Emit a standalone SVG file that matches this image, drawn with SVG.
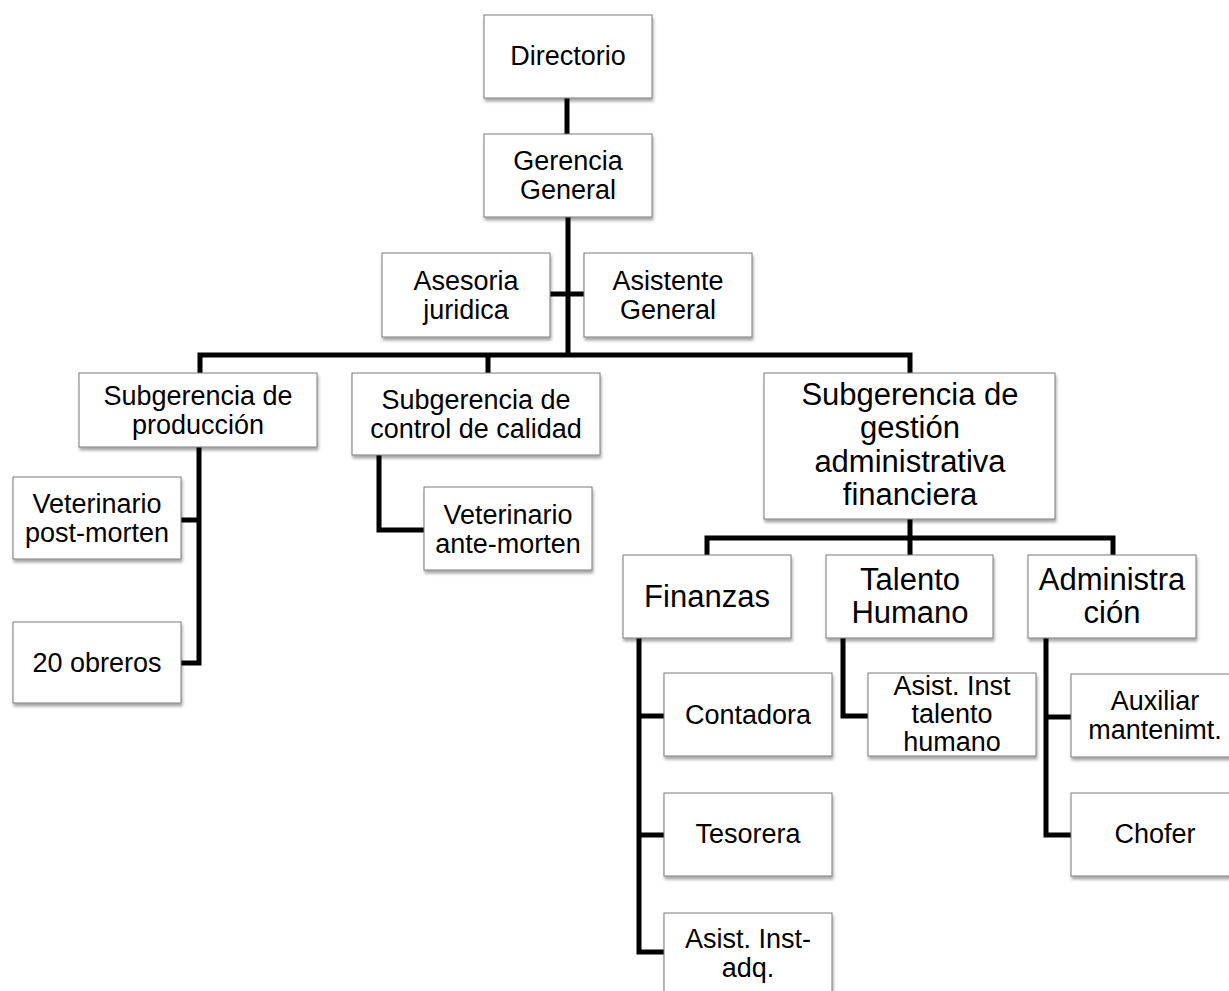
<svg xmlns="http://www.w3.org/2000/svg" width="1229" height="991" viewBox="0 0 1229 991">
<defs>
<filter id="sh" x="-10%" y="-10%" width="130%" height="140%">
<feDropShadow dx="1" dy="3" stdDeviation="1.8" flood-color="#000" flood-opacity="0.35"/>
</filter>
</defs>
<style>
.b{fill:#fff;stroke:#7a7a7a;stroke-width:1;filter:url(#sh)}
text{font-family:"Liberation Sans",Arial,sans-serif;font-size:27px;fill:#000;text-anchor:middle}
.L{font-size:31px}
.c{fill:none;stroke:#000;stroke-width:5;stroke-linejoin:miter;stroke-linecap:butt}
</style>
<rect width="1229" height="991" fill="#fff"/>
<g id="connectors">
<path class="c" d="M567 98V134"/>
<path class="c" d="M568 217V357"/>
<path class="c" d="M550 294H584"/>
<path class="c" d="M200 373V355H910V373"/>
<path class="c" d="M488 355V373"/>
<path class="c" d="M199 447V663H181"/>
<path class="c" d="M181 520H199"/>
<path class="c" d="M379 455V530H424"/>
<path class="c" d="M910 519V555"/>
<path class="c" d="M707 555V538H1113V555"/>
<path class="c" d="M639 638V952H664"/>
<path class="c" d="M639 716H664"/>
<path class="c" d="M639 835H664"/>
<path class="c" d="M843 638V716H868"/>
<path class="c" d="M1046 638V835H1071"/>
<path class="c" d="M1046 717H1071"/>
</g>
<g id="directorio"><rect class="b" x="484" y="15" width="168" height="83"/><text x="568" y="65">Directorio</text></g>
<g id="gerencia"><rect class="b" x="484" y="134" width="168" height="83"/><text x="568" y="170">Gerencia</text><text x="568" y="199">General</text></g>
<g id="asesoria"><rect class="b" x="382" y="253" width="168" height="84"/><text x="466" y="290">Asesoria</text><text x="466" y="319">juridica</text></g>
<g id="asistente"><rect class="b" x="584" y="253" width="168" height="84"/><text x="668" y="290">Asistente</text><text x="668" y="319">General</text></g>
<g id="subproduccion"><rect class="b" x="79" y="373" width="238" height="74"/><text x="198" y="405">Subgerencia de</text><text x="198" y="434">producción</text></g>
<g id="subcalidad"><rect class="b" x="352" y="373" width="248" height="82"/><text x="476" y="409">Subgerencia de</text><text x="476" y="438">control de calidad</text></g>
<g id="subgestion"><rect class="b" x="764" y="373" width="291" height="146"/><text class="L" x="910" y="405">Subgerencia de</text><text class="L" x="910" y="438">gestión</text><text class="L" x="910" y="472">administrativa</text><text class="L" x="910" y="505">financiera</text></g>
<g id="vetpost"><rect class="b" x="13" y="477" width="168" height="82"/><text x="97" y="513">Veterinario</text><text x="97" y="542">post-morten</text></g>
<g id="obreros"><rect class="b" x="13" y="622" width="168" height="81"/><text x="97" y="672">20 obreros</text></g>
<g id="vetante"><rect class="b" x="424" y="487" width="168" height="83"/><text x="508" y="524">Veterinario</text><text x="508" y="553">ante-morten</text></g>
<g id="finanzas"><rect class="b" x="623" y="555" width="168" height="83"/><text class="L" x="707" y="607">Finanzas</text></g>
<g id="talento"><rect class="b" x="826" y="555" width="167" height="83"/><text class="L" x="910" y="590">Talento</text><text class="L" x="910" y="623">Humano</text></g>
<g id="administracion"><rect class="b" x="1028" y="555" width="168" height="83"/><text class="L" x="1112" y="590">Administra</text><text class="L" x="1112" y="623">ción</text></g>
<g id="contadora"><rect class="b" x="664" y="673" width="168" height="83"/><text x="748" y="724">Contadora</text></g>
<g id="tesorera"><rect class="b" x="664" y="793" width="168" height="83"/><text x="748" y="843">Tesorera</text></g>
<g id="asistadq"><rect class="b" x="664" y="913" width="168" height="83"/><text x="748" y="948">Asist. Inst-</text><text x="748" y="977">adq.</text></g>
<g id="asisttalento"><rect class="b" x="868" y="673" width="168" height="83"/><text x="952" y="695">Asist. Inst</text><text x="952" y="723">talento</text><text x="952" y="751">humano</text></g>
<g id="auxiliar"><rect class="b" x="1071" y="674" width="168" height="83"/><text x="1155" y="710">Auxiliar</text><text x="1155" y="739">mantenimt.</text></g>
<g id="chofer"><rect class="b" x="1071" y="793" width="168" height="83"/><text x="1155" y="843">Chofer</text></g>
</svg>
